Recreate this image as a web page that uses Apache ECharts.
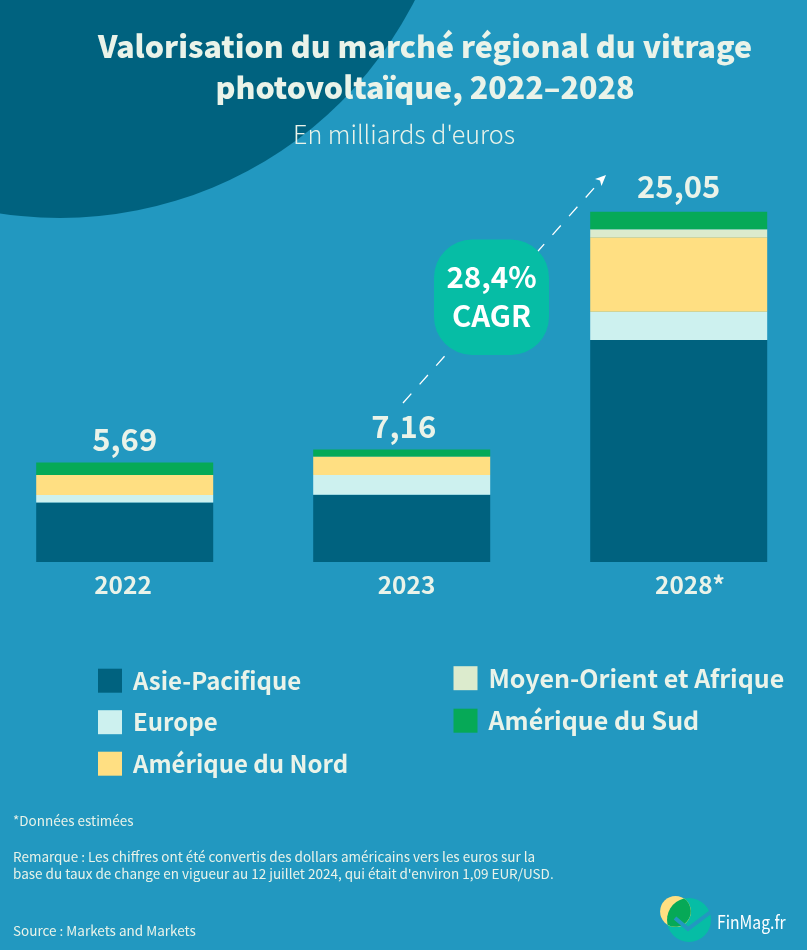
<!DOCTYPE html>
<html lang="fr">
<head>
<meta charset="utf-8">
<title>Vitrage photovoltaïque</title>
<script src="https://cdn.jsdelivr.net/npm/echarts@6/dist/echarts.min.js"></script>
<style>
  html, body { margin: 0; padding: 0; background: #2298c0; }
  #chart { width: 807px; height: 950px; }
</style>
</head>
<body>
<div id="chart"></div>
<script>
/* ================================
   DATA
================================ */
const years = ["2022", "2023", "2028*"];
const totals = ["5,69", "7,16", "25,05"];
const asiePacifique = [4.25, 4.81, 15.85];
const europe = [0.54, 1.41, 2.03];
const ameriqueNord = [1.42, 1.32, 5.31];
const moyenOrient = [0, 0, 0.57];
const ameriqueSud = [0.9, 0.5, 1.26];

const FONT = '"Noto Sans CJK JP", "Noto Sans", sans-serif';
const LIGHT = "#eaf3e9";
const BG = "#2298c0";

const leftLegend = ["Asie-Pacifique", "Europe", "Amérique du Nord"];
const rightLegend = ["Moyen-Orient et Afrique", "Amérique du Sud"];

/* ================================
   HELPERS
================================ */
function bar(name, values, color) {
  return {
    name: name,
    type: "bar",
    stack: "total",
    data: values,
    barWidth: 177,
    itemStyle: { color: color }
  };
}

function legendBox(names, left, top, fontSize) {
  return {
    data: names,
    orient: "vertical",
    left: left,
    top: top,
    padding: 0,
    itemWidth: 24,
    itemHeight: 24,
    itemGap: 17.5,
    icon: "rect",
    selectedMode: false,
    textStyle: {
      color: LIGHT,
      fontFamily: FONT,
      fontWeight: 700,
      fontSize: fontSize,
      padding: [0, 0, 0, 6]
    }
  };
}

function note(text, x, y) {
  return {
    type: "text",
    x: x,
    y: y,
    style: { text: text, fill: LIGHT, font: "400 13.5px " + FONT, textVerticalAlign: "middle" }
  };
}

// green lens of the logo, where the yellow and teal discs overlap
echarts.graphic.registerShape(
  "logoLens",
  echarts.graphic.extendPath("M683.9 898.6 A22 22 0 0 0 667.5 924.66 A15.4 15.4 0 0 0 683.9 898.6 Z", {})
);

/* ================================
   CHART
================================ */
const topSeries = bar("Amérique du Sud", ameriqueSud, "#06a957");
topSeries.label = {
  show: true,
  position: "top",
  distance: 8,
  color: LIGHT,
  fontFamily: FONT,
  fontWeight: 700,
  fontSize: 31,
  formatter: p => totals[p.dataIndex]
};
// the total labels do not sit exactly over their bars in the reference
topSeries.data = [
  ameriqueSud[0],
  { value: ameriqueSud[1], label: { offset: [2, 0] } },
  { value: ameriqueSud[2], label: { offset: [0, -2] } }
];

const chart = echarts.init(document.getElementById("chart"));
chart.setOption({
  backgroundColor: BG,
  animation: false,
  title: [
    {
      text: "Valorisation du marché régional du vitrage\nphotovoltaïque, 2022–2028",
      left: 425,
      top: 26,
      padding: 0,
      textAlign: "center",
      textStyle: { color: LIGHT, fontFamily: FONT, fontWeight: 900, fontSize: 30.4, lineHeight: 41 }
    },
    {
      text: "En milliards d'euros",
      left: 404,
      top: 122,
      padding: 0,
      textAlign: "center",
      textStyle: { color: LIGHT, fontFamily: FONT, fontWeight: 300, fontSize: 25.1 }
    }
  ],
  legend: [legendBox(leftLegend, 98, 668.7, 24), legendBox(rightLegend, 453.5, 665.7, 25)],
  grid: { left: -13.8, width: 831, top: 170, height: 392, outerBoundsMode: "none" },
  xAxis: {
    type: "category",
    data: [
      { value: years[0], textStyle: { padding: [0, 3.4, 0, 0] } },
      { value: years[1], textStyle: { padding: [0, 0, 0, 9.6] } },
      { value: years[2], textStyle: { padding: [0, 0, 0, 22.6] } }
    ],
    axisLine: { show: false },
    axisTick: { show: false },
    axisLabel: {
      interval: 0,
      margin: 11,
      color: LIGHT,
      fontFamily: FONT,
      fontWeight: 700,
      fontSize: 24.4
    }
  },
  yAxis: { type: "value", min: 0, max: 28, show: false },
  series: [
    bar("Asie-Pacifique", asiePacifique, "#00627f"),
    bar("Europe", europe, "#cdf1ef"),
    bar("Amérique du Nord", ameriqueNord, "#ffdf82"),
    bar("Moyen-Orient et Afrique", moyenOrient, "#dcebcd"),
    topSeries
  ],
  graphic: [
    // dark disc behind the title
    { type: "circle", z: -10, shape: { cx: 60, cy: -180, r: 398 }, style: { fill: "#00627f" } },

    // growth arrow + CAGR badge
    {
      type: "line",
      shape: { x1: 403, y1: 403, x2: 603, y2: 178 },
      style: { stroke: "#ffffff", lineWidth: 1.3, lineDash: [12.5, 12.5] }
    },
    {
      type: "polygon",
      shape: { points: [[606, 175], [601.5, 186], [600, 180.5], [595, 179]] },
      style: { fill: "#ffffff" }
    },
    {
      type: "rect",
      shape: { x: 434, y: 239.5, width: 115, height: 115.5, r: 38 },
      style: { fill: "#06bda5" }
    },
    {
      type: "text",
      x: 491.5,
      y: 277,
      style: { text: "28,4%", fill: "#ffffff", font: "700 29.5px " + FONT, textAlign: "center", textVerticalAlign: "middle" }
    },
    {
      type: "text",
      x: 491.5,
      y: 316,
      style: { text: "CAGR", fill: "#ffffff", font: "700 29.5px " + FONT, textAlign: "center", textVerticalAlign: "middle" }
    },

    // footnotes
    note("*Données estimées", 13, 821),
    note("Remarque : Les chiffres ont été convertis des dollars américains vers les euros sur la", 13, 857),
    note("base du taux de change en vigueur au 12 juillet 2024, qui était d'environ 1,09 EUR/USD.", 13, 874),
    note("Source : Markets and Markets", 13, 931),

    // logo: teal disc, yellow disc, green lens where they overlap, check mark
    { type: "circle", shape: { cx: 689, cy: 920, r: 22 }, style: { fill: "#06bda5" } },
    { type: "circle", shape: { cx: 675.5, cy: 911.5, r: 15.4 }, style: { fill: "#ffdf82" } },
    { type: "logoLens", style: { fill: "#06a957" } },
    {
      type: "polyline",
      shape: { points: [[675, 918], [688, 929], [712, 911]] },
      style: { stroke: BG, lineWidth: 4, fill: null }
    },
    {
      type: "text",
      x: 717,
      y: 922,
      scaleX: 0.85,
      style: { text: "FinMag.fr", fill: "#ffffff", font: "400 18.5px " + FONT, textVerticalAlign: "middle" }
    }
  ]
});
</script>
</body>
</html>
